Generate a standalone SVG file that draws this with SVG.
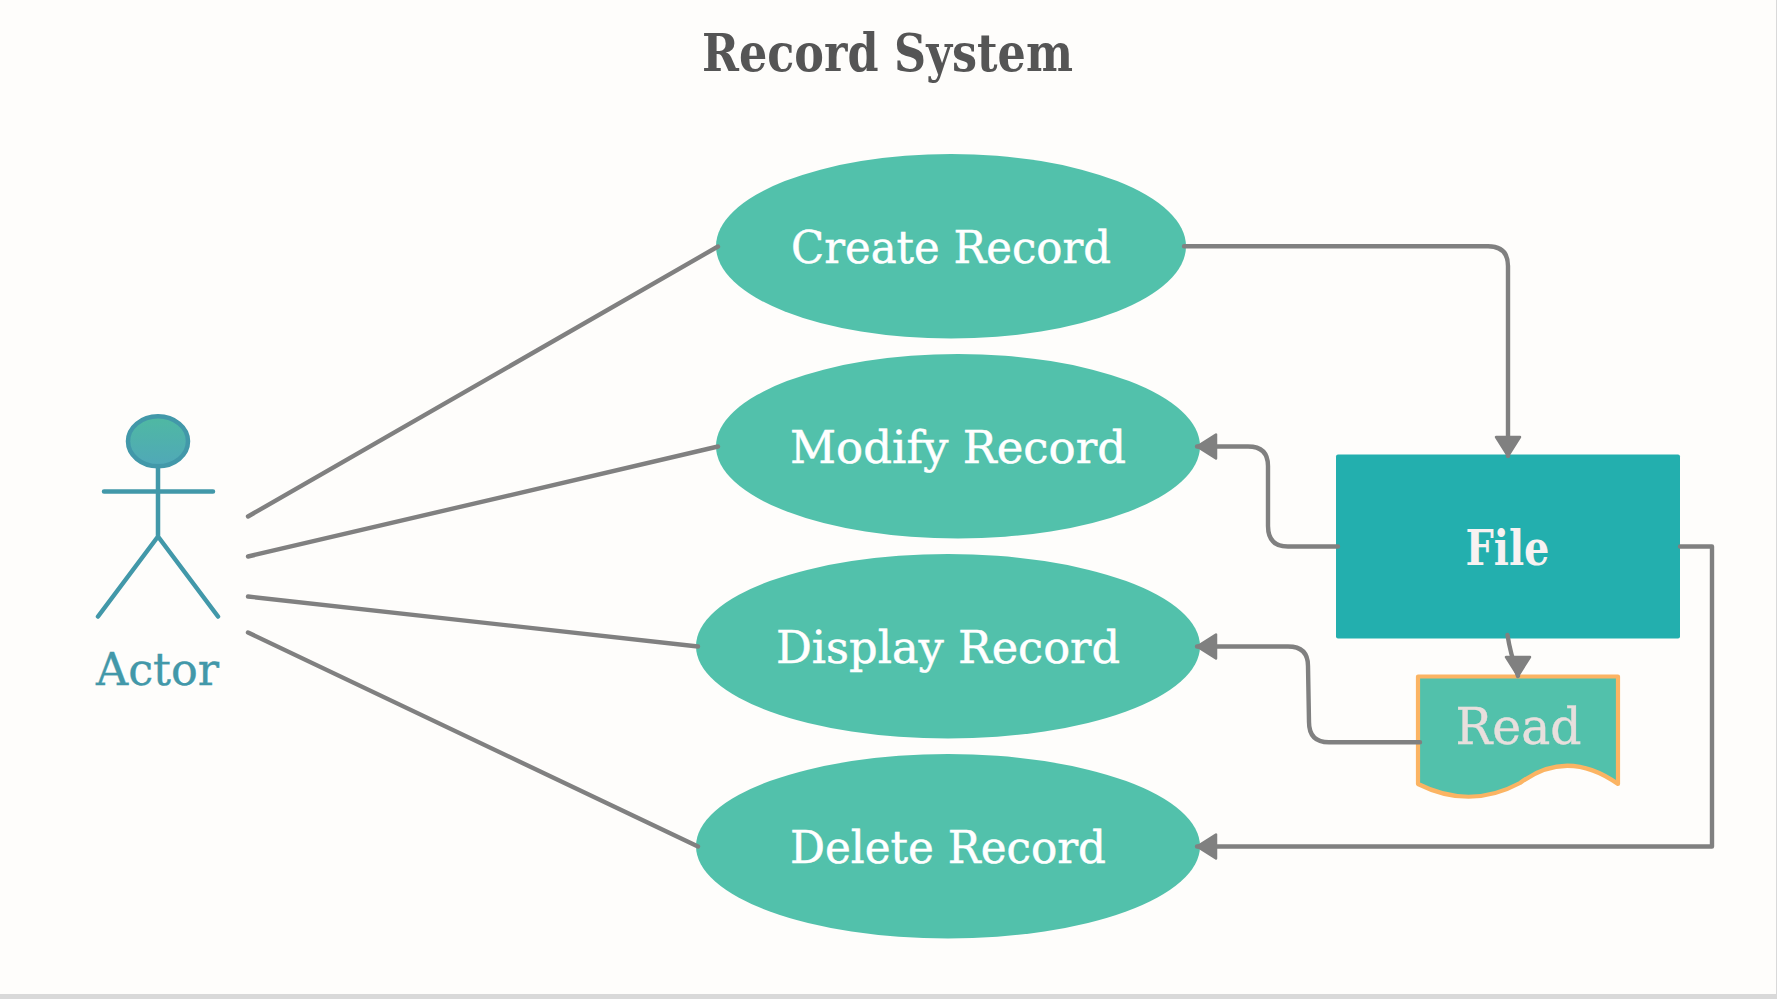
<svg xmlns="http://www.w3.org/2000/svg" width="1777" height="999" viewBox="0 0 1777 999">
<style>
.bg{fill:#fefdfb}
.band{fill:#d9d9d9}
.uc{fill:#52c1ab}
.t{font-family:"DejaVu Serif","Liberation Serif",serif;text-anchor:start}
.lbl{font-size:45px;fill:#fff;stroke:#fff;stroke-width:.5}
.c{fill:none;stroke:#808080;stroke-width:4.400;stroke-linecap:round;stroke-linejoin:round}
.a{fill:none;stroke:#4298a9;stroke-width:4.500;stroke-linecap:round;stroke-linejoin:round}
.h{fill:#808080;stroke:#808080;stroke-width:2.500;stroke-linejoin:round}
</style>
<defs>
<marker id="arr" markerUnits="userSpaceOnUse" markerWidth="30" markerHeight="32" refX="21" refY="15" orient="auto">
<path class="h" d="M2,3 L21,15 L2,27 Z"/>
</marker>
<marker id="arrDown" markerUnits="userSpaceOnUse" markerWidth="30" markerHeight="32" refX="21" refY="15" orient="90">
<path class="h" d="M2,3 L21,15 L2,27 Z"/>
</marker>
<linearGradient id="head" x1="0" y1="0" x2="0" y2="1"><stop offset="0" stop-color="#4fb9a2"/><stop offset="1" stop-color="#50a8b8"/></linearGradient>
</defs>
<rect class="bg" width="1777" height="999"/>
<rect class="band" x="0" y="994" width="1777" height="5"/>
<rect class="band" x="1776" y="0" width="1" height="999"/>
<text id="title" class="t" x="702" y="71" font-size="53" font-weight="700" fill="#555" textLength="371" lengthAdjust="spacingAndGlyphs">Record System</text>
<g id="actor">
<ellipse class="a" cx="158" cy="441.300" rx="30" ry="25" style="fill:url(#head)"/>
<path class="a" d="M158,466 V536.500 M104,491.500 H213 M98,616.500 L158,536.500 L218,616.500"/>
<text class="t" x="96" y="685" font-size="45" fill="#4298a9" stroke="#4298a9" stroke-width=".4" textLength="123" lengthAdjust="spacingAndGlyphs">Actor</text>
</g>
<g id="create"><ellipse class="uc" cx="951" cy="246.300" rx="235" ry="92.200"/><text class="t lbl" x="791" y="263.300" textLength="320" lengthAdjust="spacingAndGlyphs">Create Record</text></g>
<g id="modify"><ellipse class="uc" cx="958" cy="446.300" rx="242" ry="92.200"/><text class="t lbl" x="790" y="463.300" textLength="336" lengthAdjust="spacingAndGlyphs">Modify Record</text></g>
<g id="display"><ellipse class="uc" cx="948" cy="646.300" rx="252" ry="92.200"/><text class="t lbl" x="776" y="663.300" textLength="344" lengthAdjust="spacingAndGlyphs">Display Record</text></g>
<g id="delete"><ellipse class="uc" cx="948" cy="846.300" rx="252" ry="92.200"/><text class="t lbl" x="790" y="863.300" textLength="316" lengthAdjust="spacingAndGlyphs">Delete Record</text></g>
<g id="file"><rect x="1336" y="454.500" width="344" height="184" rx="2" fill="#23afae"/><text class="t" x="1465.500" y="565" font-size="49" font-weight="700" fill="#f7f2f2" textLength="84" lengthAdjust="spacingAndGlyphs">File</text></g>
<g id="read"><path d="M1418,676.500 H1618 V784 Q1567,748 1520,783 Q1470,810 1418,784 Z" fill="#52c1ab" stroke="#fbb463" stroke-width="4.200" stroke-linejoin="round"/><text class="t" x="1455.500" y="744" font-size="51" fill="#e8dfdd" stroke="#e8dfdd" stroke-width=".4" textLength="126" lengthAdjust="spacingAndGlyphs">Read</text></g>
<g id="connectors">
<path class="c" d="M248,516.500 L718,246.500"/>
<path class="c" d="M248,556.500 L718,446.500"/>
<path class="c" d="M248,596.500 L698,646.500"/>
<path class="c" d="M248,632.500 L698,846.500"/>
<path class="c" marker-end="url(#arr)" d="M1184,246.300 H1488 Q1508,246.300 1508,266 V456"/>
<path class="c" marker-end="url(#arr)" d="M1338,546.500 H1288 Q1268,546.500 1268,526 V466 Q1268,446.500 1248,446.500 H1197"/>
<path class="c" marker-end="url(#arr)" d="M1420,742.300 H1329 Q1309,742.300 1309,722 L1308,666 Q1308,646.500 1288,646.500 H1197"/>
<path class="c" marker-end="url(#arrDown)" d="M1507.500,635 Q1510,652 1518,676"/>
<path class="c" marker-end="url(#arr)" d="M1680,546.500 H1712 V846.500 H1197"/>
</g>
</svg>
